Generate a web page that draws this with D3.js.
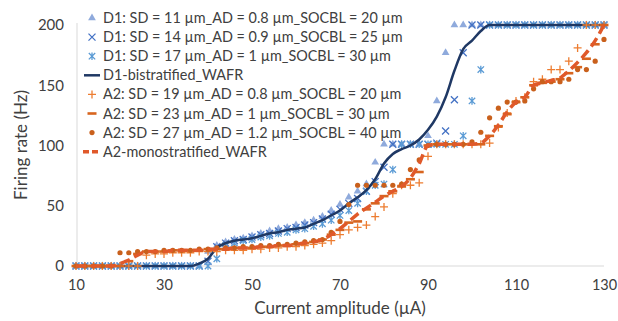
<!DOCTYPE html>
<html>
<head>
<meta charset="utf-8">
<script src="https://cdnjs.cloudflare.com/ajax/libs/d3/7.8.5/d3.min.js"></script>
<style>
  body { margin: 0; background: #fff; }
  text { font-family: Lato, "Open Sans", sans-serif; fill: #404040; }
</style>
</head>
<body>
<svg id="chart" width="618" height="321"></svg>
<script>
// current amplitude (uA), one value every 2 uA
const current = [10,12,14,16,18,20,22,24,26,28,30,32,34,36,38,40,42,44,46,48,50,52,54,56,58,60,
  62,64,66,68,70,72,74,76,78,80,82,84,86,88,90,92,94,96,98,100,102,104,106,108,110,112,114,116,118,120,
  122,124,126,128,130];

const d1Sd11 = [0,0,0,0,0,0,0,0,0,0,0,0,0,0,0,12,17,20,22,23,25,27,29,31,32,34,36,38,41,46,51,57,62,68,86,101,
  101,101,101,101,108,137,177,200,200,200,200,200,200,200,200,200,200,200,200,200,200,200,200,200,200];
const d1Sd14 = [0,0,0,0,0,0,0,0,0,0,0,0,0,0,0,4,16,19,21,22,24,26,27,29,31,32,34,36,39,43,47,52,56,62,70,82,
  101,101,101,101,101,102,112,138,177,200,200,200,200,200,200,200,200,200,200,200,200,200,200,200,200];
const d1Sd17 = [0,0,0,0,0,0,0,0,0,0,0,0,0,0,0,0,6,17,19,21,22,24,25,27,28,30,31,33,35,38,42,46,52,62,67,68,
  80,101,101,101,101,101,101,101,108,137,163,200,200,200,200,200,200,200,200,200,200,200,200,200,200];
const d1Wafr = [0,0,0,0,0,0,0,0,0,0,0,0,0,0,2,6,15,19,21,22,23,25,27,28,30,31,32,35,38,42,46,52,57,63,72,85,
  93,97,100,105,113,124,140,162,180,187,195,200,200,200,200,200,200,200,200,200,200,200,200,200,200];

const a2Sd19 = [0,0,0,0,0,0,0,0,9,10,10,11,11,11,12,12,12,13,13,13,14,14,15,15,16,16,17,18,19,21,26,30,32,34,41,49,
  60,67,67,69,91,101,101,101,101,101,101,102,115,127,137,140,153,155,163,163,170,181,200,200,200];
const a2Sd23 = [0,0,0,0,0,0,4,10,12,12,12,13,13,13,13,14,14,14,15,15,15,16,16,17,17,18,19,20,22,26,30,36,37,47,52,58,
  62,66,72,78,100,101,101,101,101,101,101,108,116,126,136,140,150,152,153,155,160,165,172,184,200];
const a2Sd27 = [0,0,0,0,0,11,11,12,12,12,13,13,13,13,14,14,15,15,15,16,16,17,17,18,18,19,20,21,22,28,37,51,67,67,67,67,
  67,68,80,88,100,101,101,101,101,103,111,123,131,136,136,137,147,153,153,153,155,163,163,170,188];
const a2Wafr = [0,0,0,0,0,2,5,9,12,12,12,13,13,13,13,14,14,14,15,15,15,16,16,17,17,18,19,20,22,26,31,37,43,48,53,58,
  62,66,73,85,100,101,101,101,101,101,102,108,117,128,136,140,150,152,154,156,162,169,177,187,200];

const xTicks = [10,30,50,70,90,110,130];
const yTicks = [0,50,100,150,200];

const series = [
  { name: "D1: SD = 11 \u00b5m_AD = 0.8 \u00b5m_SOCBL = 20 \u00b5m", values: d1Sd11, kind: "triangle", color: "#8faadc" },
  { name: "D1: SD = 14 \u00b5m_AD = 0.9 \u00b5m_SOCBL = 25 \u00b5m", values: d1Sd14, kind: "cross", color: "#4472c4" },
  { name: "D1: SD = 17 \u00b5m_AD = 1 \u00b5m_SOCBL = 30 \u00b5m", values: d1Sd17, kind: "star", color: "#5b9bd5" },
  { name: "D1-bistratified_WAFR", values: d1Wafr, kind: "line", color: "#1f3864" },
  { name: "A2: SD = 19 \u00b5m_AD = 0.8 \u00b5m_SOCBL = 20 \u00b5m", values: a2Sd19, kind: "plus", color: "#ed7d31" },
  { name: "A2: SD = 23 \u00b5m_AD = 1 \u00b5m_SOCBL = 30 \u00b5m", values: a2Sd23, kind: "dash", color: "#d8651f" },
  { name: "A2: SD = 27 \u00b5m_AD = 1.2 \u00b5m_SOCBL = 40 \u00b5m", values: a2Sd27, kind: "dot", color: "#c9601c" },
  { name: "A2-monostratified_WAFR", values: a2Wafr, kind: "dashed", color: "#e0592a" }
];

const svg = d3.select("#chart");
const x = d3.scaleLinear().domain([10, 130]).range([76, 604]);
const y = d3.scaleLinear().domain([0, 200]).range([266, 25]);

// axis lines
svg.append("line").attr("x1", x(10)).attr("x2", x(130)).attr("y1", y(0)).attr("y2", y(0))
  .attr("stroke", "#d9d9d9").attr("stroke-width", 1);
svg.append("line").attr("x1", x(10) + 1).attr("x2", x(10) + 1).attr("y1", y(200) - 2).attr("y2", y(0))
  .attr("stroke", "#d9d9d9").attr("stroke-width", 1);

const yAxis = svg.append("g").attr("transform", "translate(" + (x(10) - 12) + ",0)")
  .call(d3.axisLeft(y).tickValues(yTicks).tickSize(0).tickPadding(0));
yAxis.select(".domain").remove();
yAxis.selectAll("text").style("font-size", "15px").style("font-family", "Lato").attr("fill", "#404040");

const xAxis = svg.append("g").attr("transform", "translate(0," + (y(0) + 14) + ")")
  .call(d3.axisBottom(x).tickValues(xTicks).tickSize(0).tickPadding(0));
xAxis.select(".domain").remove();
xAxis.selectAll("text").style("font-size", "14.5px").style("font-family", "Lato").attr("fill", "#404040");

svg.append("text").attr("x", 340).attr("y", 314).attr("text-anchor", "middle")
  .style("font-size", "17px").text("Current amplitude (\u00b5A)");
svg.append("text").attr("transform", "translate(27,145) rotate(-90)").attr("text-anchor", "middle")
  .style("font-size", "17px").text("Firing rate (Hz)");

function drawMarker(g, kind, color) {
  if (kind === "triangle") {
    g.append("path").attr("d", d3.symbol(d3.symbolTriangle, 26)()).attr("fill", color);
  } else if (kind === "cross") {
    g.append("path").attr("d", "M-3.5,-3.5L3.5,3.5M-3.5,3.5L3.5,-3.5").attr("stroke", color).attr("stroke-width", 1.3);
  } else if (kind === "star") {
    g.append("path").attr("d", "M-3.2,-3.2L3.2,3.2M-3.2,3.2L3.2,-3.2M0,-3.8L0,3.8").attr("stroke", color).attr("stroke-width", 1.3);
  } else if (kind === "plus") {
    g.append("path").attr("d", "M-4,0L4,0M0,-4L0,4").attr("stroke", color).attr("stroke-width", 1.3);
  } else if (kind === "dash") {
    g.append("rect").attr("x", -4.5).attr("y", -1.3).attr("width", 9).attr("height", 2.6).attr("fill", color);
  } else if (kind === "dot") {
    g.append("circle").attr("r", 2.6).attr("fill", color);
  }
}

const plot = svg.append("g");
series.forEach(s => {
  const pts = current.map((c, i) => [c, s.values[i]]);
  if (s.kind === "line" || s.kind === "dashed") {
    const line = d3.line().x(d => x(d[0])).y(d => y(d[1])).curve(d3.curveMonotoneX);
    plot.append("path").datum(pts).attr("d", line).attr("fill", "none")
      .attr("stroke", s.color)
      .attr("stroke-width", s.kind === "line" ? 2.5 : 3.5)
      .attr("stroke-dasharray", s.kind === "dashed" ? "10,5" : null);
  } else {
    pts.forEach(p => {
      const g = plot.append("g").attr("transform", "translate(" + x(p[0]) + "," + y(p[1]) + ")");
      drawMarker(g, s.kind, s.color);
    });
  }
});

// legend
const legend = svg.append("g");
series.forEach((s, i) => {
  const ly = 18 + i * 19.1;
  const g = legend.append("g").attr("transform", "translate(92," + ly + ")");
  if (s.kind === "line") {
    g.append("line").attr("x1", -8).attr("x2", 8).attr("stroke", s.color).attr("stroke-width", 2.5);
  } else if (s.kind === "dashed") {
    g.append("line").attr("x1", -9).attr("x2", 9).attr("stroke", s.color).attr("stroke-width", 3.5)
      .attr("stroke-dasharray", "6,3");
  } else {
    drawMarker(g, s.kind, s.color);
  }
  legend.append("text").attr("x", 103).attr("y", ly).attr("dy", "0.35em")
    .style("font-size", "14.4px").text(s.name);
});
</script>
</body>
</html>
